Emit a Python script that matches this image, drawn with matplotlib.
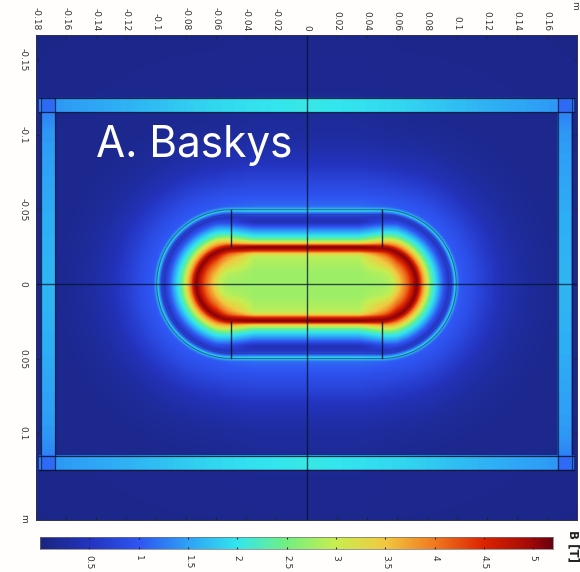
import numpy as np
import matplotlib
matplotlib.use('Agg')
import matplotlib.pyplot as plt
from matplotlib.colors import LinearSegmentedColormap

# field, as B against distance from the centre segment
dist_stops = [0, 0.008, 0.018, 0.0205, 0.0222, 0.0238, 0.0248, 0.0258, 0.0272, 0.030, 0.033, 0.037,
              0.0415, 0.045, 0.0478, 0.0493, 0.052, 0.06, 0.07, 0.08, 0.09, 0.10, 0.12, 0.20]
b_straight = [2.75, 2.75, 2.9, 3.4, 4.4, 5.0, 5.15, 4.7, 3.5, 2.4, 1.9, 1.25,
              0.4, 0.55, 1.2, 2.0, 1.15, 0.95, 0.75, 0.5, 0.35, 0.25, 0.15, 0.08]
b_arc = [2.75, 3.0, 4.2, 4.6, 4.95, 5.1, 4.85, 4.55, 4.0, 3.3, 2.45, 1.8,
         1.0, 0.5, 1.1, 1.9, 1.05, 0.9, 0.65, 0.42, 0.3, 0.2, 0.12, 0.08]

# yoke bars, B along the bar
bar_h_x = [-0.18, -0.165, -0.12, -0.06, 0, 0.06, 0.12, 0.165, 0.18]
bar_h_b = [1.3, 1.45, 1.62, 1.9, 2.05, 1.9, 1.62, 1.45, 1.3]
bar_v_y = [-0.125, -0.1, -0.05, 0, 0.05, 0.1, 0.125]
bar_v_b = [1.2, 1.45, 1.58, 1.65, 1.58, 1.45, 1.2]

cb_stops = [0, 0.5, 1.0, 1.5, 2.0, 2.5, 3.0, 3.5, 4.0, 4.5, 5.0, 5.2]
cb_colors = ['#1a2580', '#2434c0', '#2f55f2', '#2ea2f6', '#33e6ee', '#72f080',
             '#c8ee50', '#f2c840', '#f07a20', '#dc2400', '#a00808', '#6a0010']

xticks = [-0.18, -0.16, -0.14, -0.12, -0.1, -0.08, -0.06, -0.04, -0.02, 0,
          0.02, 0.04, 0.06, 0.08, 0.1, 0.12, 0.14, 0.16]
yticks = [-0.15, -0.1, -0.05, 0, 0.05, 0.1]
cticks = [0.5, 1, 1.5, 2, 2.5, 3, 3.5, 4, 4.5, 5]

half_len = 0.05
r_coil = 0.0493
xlim = (-0.1803, 0.1803)
ylim = (0.158, -0.1668)
W, H = 580, 572

cmap = LinearSegmentedColormap.from_list('comsol', [(v / 5.2, c) for v, c in zip(cb_stops, cb_colors)])

xs = np.linspace(xlim[0], xlim[1], 900)
ys = np.linspace(ylim[1], ylim[0], 900)
X, Y = np.meshgrid(xs, ys)
d = np.hypot(np.maximum(np.abs(X) - half_len, 0), Y)
w = np.clip((np.abs(X) - 0.035) / 0.025, 0, 1)
B = (1 - w) * np.interp(d, dist_stops, b_straight) + w * np.interp(d, dist_stops, b_arc)

# yoke
in_v = (np.abs(X) > 0.1677) & (np.abs(X) < 0.177) & (np.abs(Y) < 0.1246)
in_h = (np.abs(Y) > 0.115) & (np.abs(Y) < 0.1246) & (np.abs(X) < 0.1785)
B[in_v] = np.interp(Y[in_v], bar_v_y, bar_v_b)
B[in_h] = np.interp(X[in_h], bar_h_x, bar_h_b)
B[(np.abs(Y) < 0.1246) & (np.abs(Y) > 0.115) & (np.abs(X) > 0.1677) & (np.abs(X) < 0.177)] = 1.15

fig = plt.figure(figsize=(W / 100, H / 100), dpi=100, facecolor='#fffefc')
ax = fig.add_axes([36 / W, 1 - 520 / H, (577 - 36) / W, (520 - 35) / H])
ax.imshow(B, extent=[xlim[0], xlim[1], ylim[0], ylim[1]], origin='upper', cmap=cmap,
          vmin=0, vmax=5.2, aspect='auto', interpolation='bilinear')
ax.set_xlim(xlim)
ax.set_ylim(ylim)

line_c = '#04122e'
ax.axhline(0, color=line_c, lw=1, alpha=0.75)
ax.axvline(0, color=line_c, lw=1, alpha=0.75)

# coil outlines
th = np.linspace(-np.pi / 2, np.pi / 2, 100)
for r, a in [(r_coil + 0.0005, 0.55), (r_coil - 0.0028, 0.3)]:
    ox = np.concatenate([half_len + r * np.cos(th), -half_len - r * np.cos(th[::-1])])
    oy = np.concatenate([r * np.sin(th), r * np.sin(th[::-1])])
    ax.plot(np.append(ox, ox[0]), np.append(oy, oy[0]), color='#063040', lw=0.8, alpha=a)
for sx in (-half_len, half_len):
    for sy in (-1, 1):
        ax.plot([sx, sx], [sy * 0.0255, sy * r_coil], color=line_c, lw=1, alpha=0.85)

# yoke outlines
for v in (-0.1246, -0.115, 0.115, 0.1246):
    ax.plot([-0.1785, 0.1785], [v, v], color=line_c, lw=0.9, alpha=0.85)
for v in (-0.177, -0.1677, 0.1677, 0.177):
    ax.plot([v, v], [-0.1246, 0.1246], color=line_c, lw=0.9, alpha=0.7)

ax.text(-0.1405, -0.0931, 'A. Baskys', color='white', fontsize=30.5, family='Inter',
        ha='left', va='center')

tick_c = '#333333'
ax.set_xticks(xticks)
ax.set_xticklabels(['0' if v == 0 else f'{v:g}' for v in xticks], rotation=-90, fontsize=6.5, color=tick_c)
ax.set_yticks(yticks)
ax.set_yticklabels(['0' if v == 0 else f'{v:g}' for v in yticks], rotation=-90, va='center', fontsize=6.5, color=tick_c)
ax.tick_params(direction='in', length=2.5, width=0.6, color='#222222', top=True, bottom=True, left=True, right=True,
               labeltop=True, labelbottom=False, labelleft=True, pad=3)
ax.tick_params(axis='y', pad=6)
for s in ax.spines.values():
    s.set_linewidth(0.7)
    s.set_color('#303050')

fig.text(24 / W, 1 - 518 / H, 'm', rotation=-90, fontsize=6.5, color=tick_c, ha='center', va='center')
fig.text(575 / W, 1 - 5 / H, 'm', rotation=-90, fontsize=6.5, color=tick_c, ha='center', va='center')

# colour bar
cax = fig.add_axes([40 / W, 1 - 548.5 / H, (553 - 40) / W, 12 / H])
cax.imshow(np.linspace(0, 5.2, 512)[None, :], extent=[0, 5.2, 0, 1], cmap=cmap, vmin=0, vmax=5.2, aspect='auto')
cax.set_yticks([])
cax.set_xticks(cticks)
cax.set_xticklabels([f'{v:g}' for v in cticks], rotation=-90, fontsize=6.5, color=tick_c)
cax.tick_params(direction='in', length=1.5, width=0.8, color='#222222', top=True, bottom=True, pad=5)
for s in cax.spines.values():
    s.set_linewidth(0.5)
    s.set_color('#707070')

fig.text(573 / W, 1 - 546 / H, 'B [T]', rotation=-90, fontsize=8.5, fontweight='bold', color='#222222',
         ha='center', va='center')

fig.savefig('out.png', dpi=100, facecolor=fig.get_facecolor())
